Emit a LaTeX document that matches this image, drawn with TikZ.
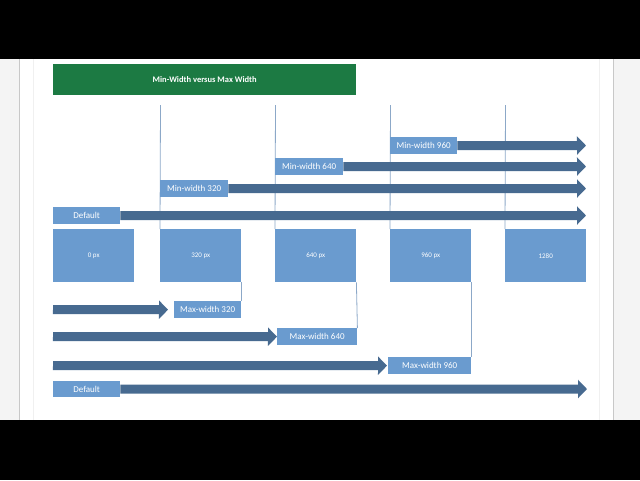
\documentclass[tikz,border=0pt]{standalone}
\usepackage{fontspec}
\setmainfont{Carlito}
\usetikzlibrary{arrows.meta}
\definecolor{boxblue}{HTML}{6A9BCF}
\definecolor{arrowblue}{HTML}{476A90}
\definecolor{titlegreen}{HTML}{1C7A43}
\definecolor{guidecol}{HTML}{8CA8C8}
\definecolor{pagegrey}{HTML}{F4F4F4}
\definecolor{edgegrey}{HTML}{C8C8C8}
\definecolor{faintgrey}{HTML}{F0F0F0}
\tikzset{
  lbl/.style={fill=boxblue, text=white, font=\fontsize{9}{10}\selectfont, minimum height=17pt, inner sep=0pt, anchor=north west},
  bx/.style={fill=boxblue, text=white, font=\fontsize{7}{8}\selectfont, minimum width=81pt, minimum height=53pt, inner sep=0pt, anchor=north west},
  arr/.style={draw=arrowblue, line width=9pt, -{Triangle[width=18pt,length=9pt]}},
  guide/.style={draw=guidecol, line width=0.8pt},
}
\begin{document}
\begin{tikzpicture}[x=1pt,y=-1pt]
\useasboundingbox (0,0) rectangle (640,480);
% page background
\fill[white] (0,0) rectangle (640,480);
\fill[pagegrey] (0,59) rectangle (19,420);
\fill[pagegrey] (614,59) rectangle (640,420);
\draw[edgegrey, line width=1.5pt] (19.5,59) -- (19.5,420);
\draw[edgegrey, line width=1.5pt] (613.5,59) -- (613.5,420);
\draw[faintgrey, line width=0.8pt] (33,59) -- (33,420);
\draw[faintgrey, line width=0.8pt] (599,59) -- (599,420);
\fill[black] (0,0) rectangle (640,59);
\fill[black] (0,420) rectangle (640,480);

% title
\node[fill=titlegreen, minimum width=303pt, minimum height=31pt, inner sep=0pt, anchor=north west, text=white, font=\bfseries\fontsize{8.5}{10}\selectfont] (title) at (53,64) {Min-Width versus Max Width};

% breakpoint boxes
\node[bx] (b0) at (53,229) {0 px};
\node[bx] (b1) at (160,229) {320 px};
\node[bx] (b2) at (275,229) {640 px};
\node[bx] (b3) at (390,229) {960 px};
\node[bx] (b4) at (505,229) {1280};

% upper guides
\coordinate (g1) at (160.5,105);
\coordinate (g2) at (275.5,105);
\coordinate (g3) at (390.5,105);
\coordinate (g4) at (505.5,105);
\draw[guide] (g1) -- (b1.north west);
\draw[guide] (g2) -- (b2.north west);
\draw[guide] (g3) -- (b3.north west);
\draw[guide] (g4) -- (b4.north west);

% min-width labels and arrows
\node[lbl, minimum width=67pt] (n3) at (390,137) {Min-width 960};
\node[lbl, minimum width=68pt] (n2) at (275,158) {Min-width 640};
\node[lbl, minimum width=68pt] (n1) at (160,180) {Min-width 320};
\node[lbl, minimum width=67pt] (n0) at (53,207) {Default};
\coordinate (t3) at (586,145.5);
\coordinate (t2) at (586,166.5);
\coordinate (t1) at (586,188.5);
\coordinate (t0) at (586,215.5);
\draw[arr] (n3.east) -- (t3);
\draw[arr] (n2.east) -- (t2);
\draw[arr] (n1.east) -- (t1);
\draw[arr] (n0.east) -- (t0);

% max-width labels
\node[lbl, minimum width=67pt] (m1) at (174,301) {Max-width 320};
\node[lbl, minimum width=80pt] (m2) at (277,328) {Max-width 640};
\node[lbl, minimum width=83pt] (m3) at (388,357) {Max-width 960};
\node[lbl, minimum width=67pt, minimum height=16pt] (d2) at (53,381) {Default};

% lower guides
\draw[guide] (b1.south east) -- (m1.north east);
\draw[guide] (b2.south east) -- (m2.north east);
\draw[guide] (b3.south east) -- (m3.north east);

% max-width arrows
\coordinate (s1) at (53,309.5);
\coordinate (s2) at (53,336.5);
\coordinate (s3) at (53,365.5);
\coordinate (t5) at (587,389);
\draw[arr] (s1) -- ([xshift=-6pt]m1.west);
\draw[arr] (s2) -- (m2.west);
\draw[arr] (s3) -- ([xshift=-1pt]m3.west);
\draw[arr] (d2.east) -- (t5);
\end{tikzpicture}
\end{document}
